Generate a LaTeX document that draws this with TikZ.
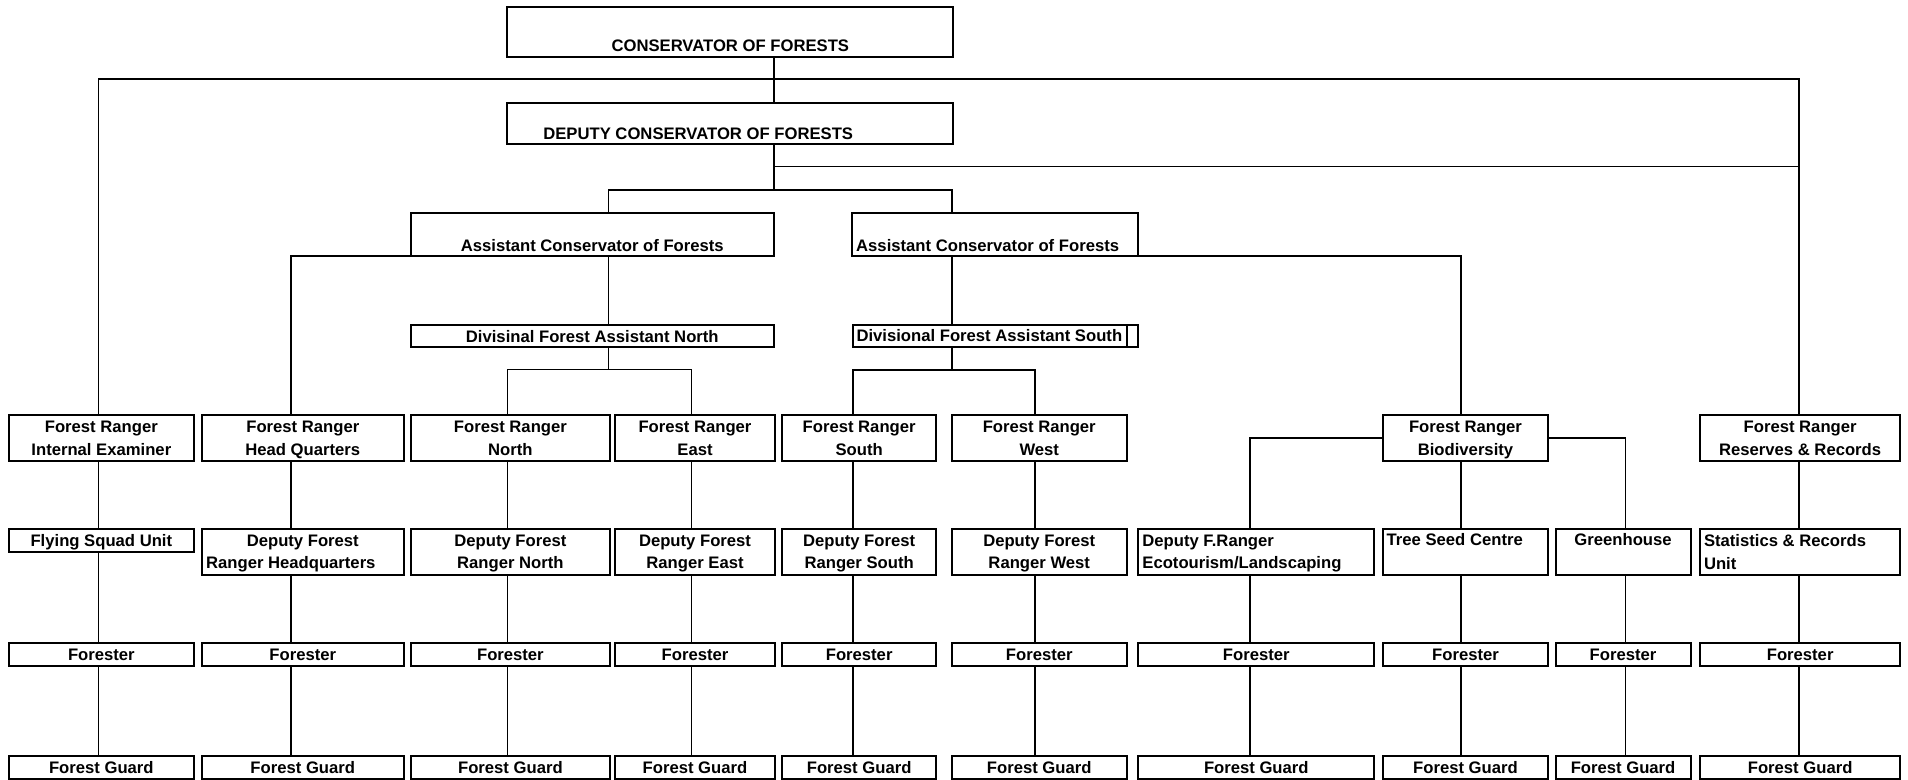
\documentclass[tikz,border=0pt]{standalone}
\usepackage{fontspec}
\setmainfont{Liberation Sans}
\newcommand\obox[8]{%
  \pgfmathsetlengthmacro\obW{(#4-#2)*0.5pt}%
  \pgfmathsetlengthmacro\obH{(#5-#3)*0.5pt}%
  \pgfmathsetlengthmacro\obw{(#4-#2)*0.5pt-4pt}%
  \pgfmathsetlengthmacro\obh{(#5-#3)*0.5pt-5pt}%
  \node[box, minimum width=\obW, minimum height=\obH] (#1) at ({(#2+#4)/2},{(#3+#5)/2})
    {\parbox[c][\obh][#7]{\obw}{#6#8\par\kern-\prevdepth}};%
}
\begin{document}
\begin{tikzpicture}[x=0.5pt,y=-0.5pt,
  box/.style={draw, rectangle, line width=1pt, inner sep=0pt, outer sep=0pt,
    font=\fontsize{8.33}{11.3}\selectfont\bfseries},
  conn/.style={draw, line width=0.8pt}]
\useasboundingbox (0,0) rectangle (1908,780);
% top boxes
\obox{cons}{507.3}{6.7}{953.3}{56.7}{\centering}{b}{CONSERVATOR OF FORESTS}
\obox{dep}{507.3}{102.7}{953.3}{144.3}{\raggedright\hspace*{16pt}}{b}{DEPUTY CONSERVATOR OF FORESTS}
\obox{asL}{410.8}{212.7}{773.8}{256.3}{\centering}{b}{Assistant Conservator of Forests}
\obox{asR}{852.2}{212.7}{1137.8}{256.3}{\raggedright}{b}{Assistant Conservator of Forests}
\obox{dN}{410.8}{325}{773.8}{347.3}{\centering}{c}{Divisinal Forest Assistant North}
\obox{dS}{852.5}{324.7}{1137.7}{346.7}{\raggedright}{c}{Divisional Forest Assistant South}
\coordinate (dsi) at (1127.3,0);
\draw[line width=1pt] (dsi |- dS.north) -- (dsi |- dS.south);
% column coordinates
\foreach \i/\x in {1/98.6,2/290.8,3/507.6,4/691.3,5/852.8,6/1035,7/1249.9,8/1461,9/1625.5,10/1799.2}
  {\coordinate (c\i) at (\x,0);}
% forest ranger row
\obox{fr1}{8.6}{415.3}{194.1}{461}{\centering}{c}{Forest Ranger\\Internal Examiner}
\obox{fr2}{202.1}{415.3}{403.5}{461}{\centering}{c}{Forest Ranger\\Head Quarters}
\obox{fr3}{410.9}{415.3}{609.9}{461}{\centering}{c}{Forest Ranger\\North}
\obox{fr4}{615.4}{415.3}{774.6}{461}{\centering}{c}{Forest Ranger\\East}
\obox{fr5}{782.0}{415.3}{936.3}{461}{\centering}{c}{Forest Ranger\\South}
\obox{fr6}{951.7}{415.3}{1126.8}{461}{\centering}{c}{Forest Ranger\\West}
\obox{fr8}{1382.7}{415.3}{1548.3}{461}{\centering}{c}{Forest Ranger\\Biodiversity}
\obox{fr10}{1700}{415.3}{1900.3}{461}{\centering}{c}{Forest Ranger\\Reserves \& Records}
% second row
\obox{r2c1}{8.6}{528.7}{194.1}{552.3}{\centering}{c}{Flying Squad Unit}
\obox{r2c2}{202.1}{528.7}{403.5}{575}{\centering}{c}{Deputy Forest\par\raggedright Ranger Headquarters}
\obox{r2c3}{410.9}{528.7}{609.9}{575}{\centering}{c}{Deputy Forest\\Ranger North}
\obox{r2c4}{615.4}{528.7}{774.6}{575}{\centering}{c}{Deputy Forest\\Ranger East}
\obox{r2c5}{782.0}{528.7}{936.3}{575}{\centering}{c}{Deputy Forest\\Ranger South}
\obox{r2c6}{951.7}{528.7}{1126.8}{575}{\centering}{c}{Deputy Forest\\Ranger West}
\obox{r2c7}{1138.4}{528.7}{1374.2}{575}{\raggedright}{c}{Deputy F.Ranger\\Ecotourism/Landscaping}
\obox{r2c8}{1382.7}{528.7}{1548.3}{575}{\raggedright}{t}{Tree Seed Centre}
\obox{r2c9}{1555.5}{528.7}{1690.6}{575}{\centering}{t}{Greenhouse}
\obox{r2c10}{1700}{528.7}{1900.3}{575}{\raggedright}{c}{Statistics \& Records\\Unit}
% forester and forest guard rows
\foreach \i/\xa/\xb in {1/8.6/194.1,2/202.1/403.5,3/410.9/609.9,4/615.4/774.6,5/782.0/936.3,
  6/951.7/1126.8,7/1138.4/1374.2,8/1382.7/1548.3,9/1555.5/1690.6,10/1700/1900.3}{
  \obox{r3c\i}{\xa}{642.7}{\xb}{666.3}{\centering}{c}{Forester}
  \obox{r4c\i}{\xa}{755.7}{\xb}{778.8}{\centering}{c}{Forest Guard}
}
% helper coordinates
\coordinate (cx) at (774,0);
\coordinate (aL) at (608.5,0);
\coordinate (aR) at (952,0);
\coordinate (yA) at (0,79);
\coordinate (yB) at (0,166.7);
\coordinate (yC) at (0,190);
\coordinate (yD) at (0,369.5);
\coordinate (yE) at (0,370);
% connectors
\draw[conn] (cx |- cons.south) -- (cx |- dep.north);
\draw[conn] (c1 |- fr1.north) -- (c1 |- yA) -- (c10 |- yA) -- (c10 |- fr10.north);
\draw[conn] (cx |- dep.south) -- (cx |- yC);
\draw[conn] (cx |- yB) -- (c10 |- yB);
\draw[conn] (aL |- asL.north) -- (aL |- yC) -- (aR |- yC) -- (aR |- asR.north);
\draw[conn] (aL |- asL.south) -- (aL |- dN.north);
\draw[conn] (aL |- dN.south) -- (aL |- yD);
\draw[conn] (c3 |- fr3.north) -- (c3 |- yD) -- (c4 |- yD) -- (c4 |- fr4.north);
\draw[conn] (asL.south west) -- (c2 |- asL.south west) -- (c2 |- fr2.north);
\draw[conn] (aR |- asR.south) -- (aR |- dS.north);
\draw[conn] (aR |- dS.south) -- (aR |- yE);
\draw[conn] (c5 |- fr5.north) -- (c5 |- yE) -- (c6 |- yE) -- (c6 |- fr6.north);
\draw[conn] (asR.south east) -- (c8 |- asR.south east) -- (c8 |- fr8.north);
\draw[conn] (fr8.west) -- (c7 |- fr8.west) -- (c7 |- r2c7.north);
\draw[conn] (fr8.east) -- (c9 |- fr8.east) -- (c9 |- r2c9.north);
\foreach \i in {1,2,3,4,5,6,8,10}
  {\draw[conn] (c\i |- fr\i.south) -- (c\i |- r2c\i.north);}
\foreach \i in {1,...,10}{
  \draw[conn] (c\i |- r2c\i.south) -- (c\i |- r3c\i.north);
  \draw[conn] (c\i |- r3c\i.south) -- (c\i |- r4c\i.north);
}
\end{tikzpicture}
\end{document}
